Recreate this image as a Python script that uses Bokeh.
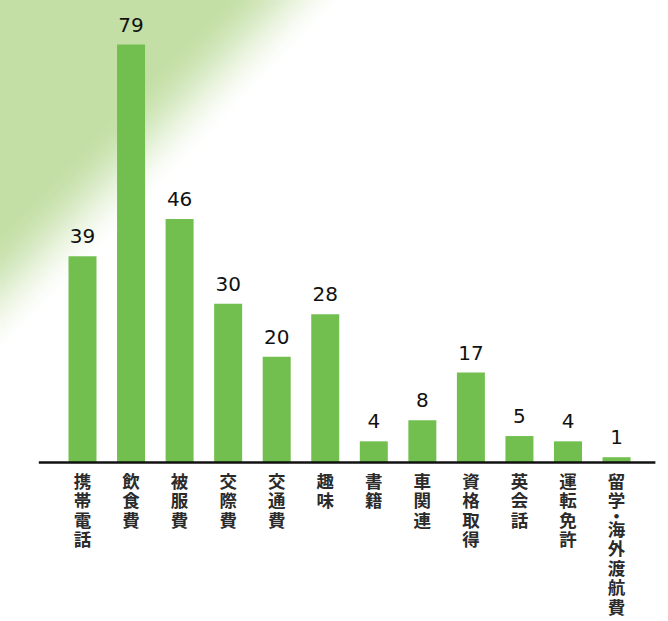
import numpy as np
from bokeh.plotting import figure
from bokeh.models import ColumnDataSource, Range1d
from bokeh.core.properties import value
from bokeh.embed import file_html
from bokeh.resources import INLINE

# ---- data ----
categories = ["携帯電話", "飲食費", "被服費", "交際費", "交通費", "趣味",
              "書籍", "車関連", "資格取得", "英会話", "運転免許", "留学・海外渡航費"]
values = [39, 79, 46, 30, 20, 28, 4, 8, 17, 5, 4, 1]

# ---- layout ----
W, H = 668, 621
BASE_PX = 462          # pixel row of the baseline
TOP_PX = 44            # pixel row of the tallest bar
PX_PER_UNIT = (BASE_PX - TOP_PX) / max(values)
STEP = 48.55           # pixels between bar centres
FIRST = 82             # pixel of first bar centre
BAR_PX = 28

y_start = -(H - BASE_PX) / PX_PER_UNIT
y_end = BASE_PX / PX_PER_UNIT
x_start = -FIRST / STEP
x_end = x_start + W / STEP


def dx(px):
    return x_start + px / STEP


def dy(py):
    return y_end - py / PX_PER_UNIT


p = figure(width=W, height=H, x_range=Range1d(x_start, x_end),
           y_range=Range1d(y_start, y_end), output_backend="svg",
           toolbar_location=None, x_axis_type=None, y_axis_type=None,
           min_border=0)
p.grid.visible = False
p.outline_line_color = None
p.background_fill_color = "white"
p.border_fill_color = "white"

# ---- background gradient (decoration): opaque nested triangles ----
GREEN_BG = np.array([196, 223, 166])
n_layers = 48
ts = np.linspace(1.16, 0.70, n_layers)     # outer (light) first
gxs, gys, gcol = [], [], []
for tk in ts:
    s = np.clip((1.16 - tk) / 0.42, 0, 1)
    s = s * s * (3 - 2 * s)
    c = 255 - s * (255 - GREEN_BG)
    gcol.append("#%02x%02x%02x" % tuple(int(round(v)) for v in c))
    ax, ay = 300 * tk, 310 * tk
    gxs.append([dx(0), dx(ax), dx(0)])
    gys.append([dy(0), dy(0), dy(ay)])
p.patches(xs=gxs, ys=gys, fill_color=gcol, line_color=gcol, line_width=1)

# ---- bars ----
idx = list(range(len(categories)))
src = ColumnDataSource(dict(x=idx, top=values,
                            lab=[str(v) for v in values],
                            ly=[v + 20 / PX_PER_UNIT for v in values]))
p.vbar(x="x", top="top", bottom=0, width=BAR_PX / STEP, source=src,
       fill_color="#72bf4f", line_color=None)

p.text(x="x", y="ly", text="lab", source=src, text_align="center",
       text_baseline="alphabetic", text_font=value("DejaVu Sans"),
       text_font_size="20px", text_color="#111111")

# ---- baseline ----
p.segment(x0=[-0.9], y0=[0], x1=[len(categories) - 1 + 0.8], y1=[0],
          line_color="#111111", line_width=2.5)

# ---- vertical category labels ----
PITCH = 19.5
cx, cy, ch = [], [], []
for i, cat in enumerate(categories):
    off = 5
    for c in cat:
        if c == "・":
            cx.append(i); ch.append(c); cy.append(-(off - 4) / PX_PER_UNIT)
            off += 9
        else:
            cx.append(i); ch.append(c); cy.append(-off / PX_PER_UNIT)
            off += PITCH
csrc = ColumnDataSource(dict(x=cx, y=cy, t=ch))
p.text(x="x", y="y", text="t", source=csrc, text_align="center",
       text_baseline="top", text_font=value("Noto Sans CJK JP"),
       text_font_size="17.5px", text_color="#2b2b2b", text_font_style="bold")

open("out.html", "w").write(file_html(p, INLINE))
